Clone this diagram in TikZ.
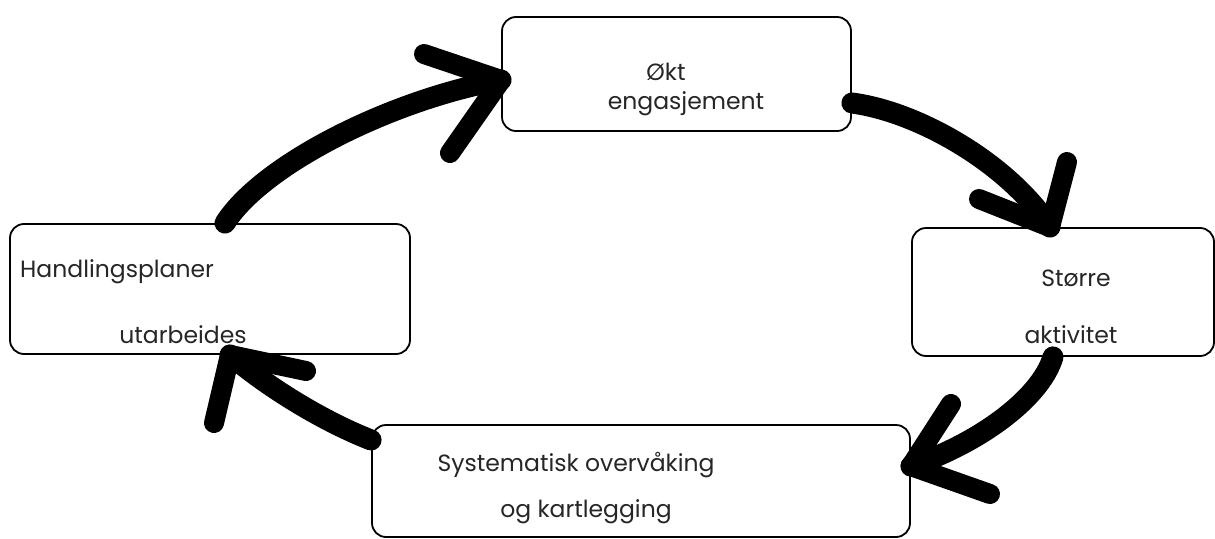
\documentclass[tikz,border=0pt]{standalone}
\usepackage{fontspec}
\setmainfont{Poppins}
\begin{document}
\begin{tikzpicture}[x=1pt,y=-1pt,
  box/.style={draw=black,line width=1.8pt,rounded corners=14pt,fill=white,inner sep=0pt},
  lbl/.style={font=\fontsize{23.5}{28}\selectfont,text=black!85,inner sep=0pt,anchor=center},
  shaft/.style={line width=21pt,line cap=round,black},
  barb/.style={line width=20pt,line cap=round,black}]
\useasboundingbox (0,0) rectangle (1215,538);
% boxes
\node[box,minimum width=349pt,minimum height=114pt] (top) at (676.5,74) {};
\node[box,minimum width=400pt,minimum height=130pt] (left) at (210,289) {};
\node[box,minimum width=302pt,minimum height=128pt] (right) at (1063,292) {};
\node[box,minimum width=538pt,minimum height=112pt] (bottom) at (641,481) {};
% labels
\node[lbl] (t1) at (666,72) {Økt};
\node[lbl] (t2) at (686,104) {engasjement};
\node[lbl,anchor=west] (l1) at (20,272) {Handlingsplaner};
\node[lbl] (l2) at (183,335) {utarbeides};
\node[lbl] (r1) at (1076,278) {Større};
\node[lbl] (r2) at (1071,335) {aktivitet};
\node[lbl] (b1) at (576,465) {Systematisk overvåking};
\node[lbl] (b2) at (586,512) {og kartlegging};
% arrow tips
\coordinate (tipA) at ([yshift=-6pt]top.west);
\coordinate (tipB) at ([xshift=-13pt]right.north);
\coordinate (tipC) at ([yshift=-42pt]bottom.north east);
\coordinate (tipD) at ([xshift=20pt]left.south);
% arrow 1: left -> top
\draw[shaft] ([xshift=15pt]left.north) .. controls (262,165) and (390,100) .. (tipA);
\draw[barb] (tipA) -- (424,54);
\draw[barb] (tipA) -- (450,153);
% arrow 2: top -> right
\draw[shaft] ([yshift=-29pt]top.east) .. controls (920,112) and (1010,165) .. (tipB);
\draw[barb] (tipB) -- (979,199);
\draw[barb] (tipB) -- (1067,162);
% arrow 3: right -> bottom
\draw[shaft] ([xshift=-10pt]right.south) .. controls (1040,400) and (975,445) .. (tipC);
\draw[barb] (tipC) -- (951,404);
\draw[barb] (tipC) -- (990,494);
% arrow 4: bottom -> left
\draw[shaft] ([yshift=41pt]bottom.west) .. controls (320,420) and (265,385) .. (tipD);
\draw[barb] (tipD) -- (214,423);
\draw[barb] (tipD) -- (306,371);
\end{tikzpicture}
\end{document}
